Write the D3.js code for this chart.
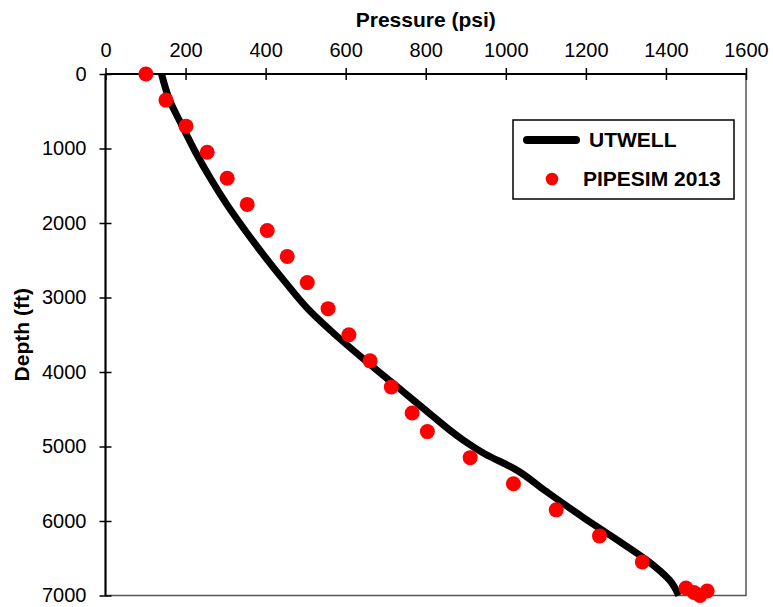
<!DOCTYPE html>
<html>
<head>
<meta charset="utf-8">
<script src="https://cdn.jsdelivr.net/npm/d3@7"></script>
<style>
  body { margin: 0; background: #fff; }
  text { font-family: "Liberation Sans", Arial, sans-serif; }
</style>
</head>
<body>
<div id="chart"></div>
<script>
// UTWELL model curve (depth ft, pressure psi)
var utwellDepth = [0, 350, 700, 1050, 1400, 1750, 2100, 2450, 2800, 3150, 3500, 3850, 4200, 4550, 4900, 5100, 5300, 5600, 5950, 6300, 6600, 6800, 7000];
var utwellPressure = [140, 160, 192, 225, 262, 303, 349, 398, 450, 505, 574, 650, 729, 808, 890, 948, 1022, 1100, 1193, 1291, 1370, 1410, 1432];

// PIPESIM 2013 points
var pipesimDepth = [0, 350, 700, 1050, 1400, 1750, 2100, 2450, 2800, 3150, 3500, 3850, 4200, 4550, 4800, 5150, 5500, 5850, 6200, 6550, 6900, 6960, 7000, 6940];
var pipesimPressure = [101, 151, 201, 254, 304, 354, 404, 454, 504, 556, 608, 661, 714, 766, 804, 911, 1019, 1126, 1234, 1341, 1450, 1470, 1485, 1503];

var xTicks = [0, 200, 400, 600, 800, 1000, 1200, 1400, 1600];
var yTicks = [0, 1000, 2000, 3000, 4000, 5000, 6000, 7000];

var svgWidth = 773;
var svgHeight = 607;
var margin = { top: 74, right: 27, bottom: 11.5, left: 105.5 };
var width = svgWidth - margin.left - margin.right;
var height = svgHeight - margin.top - margin.bottom;

var svg = d3.select("#chart")
  .append("svg")
  .attr("width", svgWidth)
  .attr("height", svgHeight);

var chartGroup = svg.append("g")
  .attr("transform", `translate(${margin.left}, ${margin.top})`);

var x = d3.scaleLinear().domain([0, 1600]).range([0, width]);
var y = d3.scaleLinear().domain([0, 7000]).range([0, height]);

// plot frame (right / bottom)
chartGroup.append("rect")
  .attr("width", width)
  .attr("height", height)
  .attr("fill", "none")
  .attr("stroke", "#555")
  .attr("stroke-width", 1.5);

// axes
var topAxis = d3.axisTop(x).tickValues(xTicks).tickFormat(d3.format("d")).tickSize(6).tickPadding(11);
var leftAxis = d3.axisLeft(y).tickValues(yTicks).tickFormat(d3.format("d")).tickSize(6).tickPadding(13);

var gx = chartGroup.append("g").call(topAxis);
var gy = chartGroup.append("g").call(leftAxis);

[gx, gy].forEach(function(g) {
  g.select(".domain").attr("stroke", "#000").attr("stroke-width", 2);
  g.selectAll(".tick line").attr("stroke", "#000").attr("stroke-width", 1.5);
  g.selectAll(".tick text")
    .attr("fill", "#000")
    .style("font-size", "20px")
    .style("font-family", "Liberation Sans, Arial, sans-serif");
});
gx.select(".domain").attr("d", `M0,0H${width}`);
gy.select(".domain").attr("d", `M0,0V${height}`);
gx.selectAll(".tick line").attr("y1", 6).attr("y2", -6);
gy.selectAll(".tick line").attr("x1", 6).attr("x2", -6);

// axis titles
chartGroup.append("text")
  .attr("x", width / 2)
  .attr("y", -47)
  .attr("text-anchor", "middle")
  .style("font-size", "21px")
  .style("font-weight", "bold")
  .text("Pressure (psi)");

chartGroup.append("text")
  .attr("transform", "rotate(-90)")
  .attr("x", -height / 2)
  .attr("y", -77)
  .attr("text-anchor", "middle")
  .style("font-size", "21px")
  .style("font-weight", "bold")
  .text("Depth (ft)");

// UTWELL line
var utwell = utwellDepth.map(function(d, i) { return { depth: d, pressure: utwellPressure[i] }; });
var line = d3.line()
  .x(d => x(d.pressure))
  .y(d => y(d.depth))
  .curve(d3.curveMonotoneY);

chartGroup.append("path")
  .datum(utwell)
  .attr("d", line)
  .attr("fill", "none")
  .attr("stroke", "#000")
  .attr("stroke-width", 7);

// PIPESIM points
var pipesim = pipesimDepth.map(function(d, i) { return { depth: d, pressure: pipesimPressure[i] }; });
chartGroup.selectAll("circle.pts")
  .data(pipesim)
  .enter()
  .append("circle")
  .attr("class", "pts")
  .attr("cx", d => x(d.pressure))
  .attr("cy", d => y(d.depth))
  .attr("r", 7.5)
  .attr("fill", "#ff0000");

// legend
var legend = svg.append("g");
legend.append("rect")
  .attr("x", 513).attr("y", 120)
  .attr("width", 221).attr("height", 79)
  .attr("fill", "#fff")
  .attr("stroke", "#000")
  .attr("stroke-width", 1.5);
legend.append("line")
  .attr("x1", 527).attr("x2", 576)
  .attr("y1", 140).attr("y2", 140)
  .attr("stroke", "#000")
  .attr("stroke-width", 8)
  .attr("stroke-linecap", "round");
legend.append("text")
  .attr("x", 589).attr("y", 147)
  .style("font-size", "21px")
  .style("font-weight", "bold")
  .text("UTWELL");
legend.append("circle")
  .attr("cx", 552).attr("cy", 179)
  .attr("r", 6.3)
  .attr("fill", "#ff0000");
legend.append("text")
  .attr("x", 583).attr("y", 186)
  .style("font-size", "21px")
  .style("font-weight", "bold")
  .text("PIPESIM 2013");
</script>
</body>
</html>
